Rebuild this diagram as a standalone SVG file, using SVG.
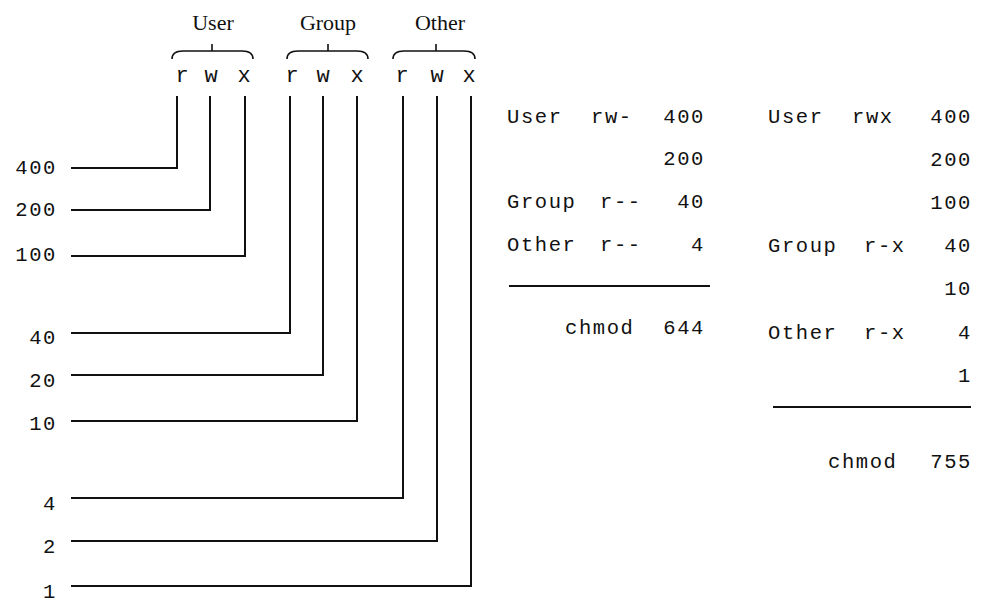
<svg xmlns="http://www.w3.org/2000/svg" width="983" height="603" viewBox="0 0 983 603">
<style>
.hd{font-family:"Liberation Serif","Times New Roman",serif;font-size:22px;fill:#111;text-anchor:middle}
.bit{font-family:"Liberation Mono","Courier New",monospace;font-size:22px;fill:#111;text-anchor:middle}
.m{font-family:"Liberation Mono","Courier New",monospace;font-size:20.5px;fill:#111;letter-spacing:1.6px}
.e{text-anchor:end}
.ln{fill:none;stroke:#111;stroke-width:2}
.br{fill:none;stroke:#111;stroke-width:1.6}
</style>
<rect width="983" height="603" fill="#fff"/>
<g id="header-user">
<text class="hd" x="213" y="30">User</text>
<path class="br" d="M172,59 Q172,51 183,51 L242,51 Q253,51 253,59 M212,51 V44"/>
<text class="bit" x="182" y="82">r</text><text class="bit" x="211" y="82">w</text><text class="bit" x="244" y="82">x</text>
</g>
<g id="header-group">
<text class="hd" x="328" y="30">Group</text>
<path class="br" d="M287,59 Q287,51 298,51 L357,51 Q368,51 368,59 M328,51 V44"/>
<text class="bit" x="292" y="82">r</text><text class="bit" x="323" y="82">w</text><text class="bit" x="357" y="82">x</text>
</g>
<g id="header-other">
<text class="hd" x="440" y="30">Other</text>
<path class="br" d="M393,59 Q393,51 404,51 L464,51 Q475,51 475,59 M436,51 V44"/>
<text class="bit" x="402" y="82">r</text><text class="bit" x="437" y="82">w</text><text class="bit" x="469" y="82">x</text>
</g>
<g id="values">
<text class="m e" x="57" y="174">400</text>
<text class="m e" x="57" y="216">200</text>
<text class="m e" x="57" y="261">100</text>
<text class="m e" x="57" y="344">40</text>
<text class="m e" x="57" y="387">20</text>
<text class="m e" x="57" y="430">10</text>
<text class="m e" x="57" y="510">4</text>
<text class="m e" x="57" y="553">2</text>
<text class="m e" x="57" y="598">1</text>
</g>
<g id="connectors">
<path class="ln" d="M71,168 H177 V96"/>
<path class="ln" d="M71,210 H210 V96"/>
<path class="ln" d="M71,256 H245 V96"/>
<path class="ln" d="M71,333 H290 V96"/>
<path class="ln" d="M71,375 H323 V96"/>
<path class="ln" d="M71,421 H357 V96"/>
<path class="ln" d="M71,498 H403 V96"/>
<path class="ln" d="M71,541 H437 V96"/>
<path class="ln" d="M71,586 H471 V96"/>
</g>
<g id="table-644">
<text class="m" x="507" y="123">User</text>
<text class="m" x="591" y="123">rw-</text>
<text class="m e" x="705" y="123">400</text>
<text class="m e" x="705" y="165">200</text>
<text class="m" x="507" y="208">Group</text>
<text class="m" x="600" y="208">r--</text>
<text class="m e" x="705" y="208">40</text>
<text class="m" x="507" y="251">Other</text>
<text class="m" x="600" y="251">r--</text>
<text class="m e" x="705" y="251">4</text>
<path class="ln" d="M509,286 H710"/>
<text class="m" x="565" y="334">chmod</text>
<text class="m e" x="705" y="334">644</text>
</g>
<g id="table-755">
<text class="m" x="768" y="123">User</text>
<text class="m" x="852" y="123">rwx</text>
<text class="m e" x="972" y="123">400</text>
<text class="m e" x="972" y="166">200</text>
<text class="m e" x="972" y="209">100</text>
<text class="m" x="768" y="252">Group</text>
<text class="m" x="864" y="252">r-x</text>
<text class="m e" x="972" y="252">40</text>
<text class="m e" x="972" y="295">10</text>
<text class="m" x="768" y="339">Other</text>
<text class="m" x="864" y="339">r-x</text>
<text class="m e" x="972" y="339">4</text>
<text class="m e" x="972" y="382">1</text>
<path class="ln" d="M773,407 H971"/>
<text class="m" x="828" y="468">chmod</text>
<text class="m e" x="972" y="468">755</text>
</g>
</svg>
